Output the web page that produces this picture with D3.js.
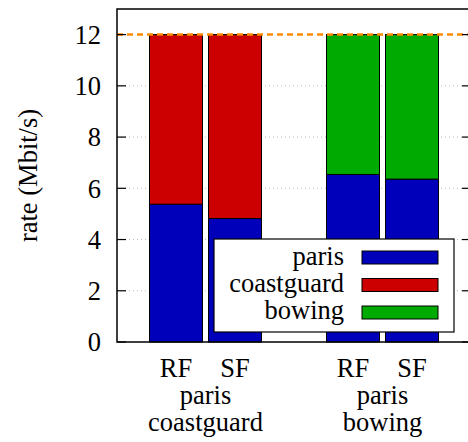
<!DOCTYPE html>
<html>
<head>
<meta charset="utf-8">
<script src="https://cdn.jsdelivr.net/npm/d3@7"></script>
<style>
  body { margin: 0; background: #fff; }
</style>
</head>
<body>
<div id="chart"></div>
<script>
// data
const groups = ["paris\ncoastguard", "paris\nbowing"];
const methods = ["RF", "SF"];
const seriesNames = ["paris", "coastguard", "bowing"];
const seriesColors = ["#0000bb", "#cc0000", "#00aa00"];
// paris share and second video share, per group and method
const parisRates = [[5.38, 4.82], [6.54, 6.36]];
const otherRates = [[6.62, 7.18], [5.46, 5.64]];
const otherSeries = ["coastguard", "bowing"];
const capacity = 12;
const yTicks = [0, 2, 4, 6, 8, 10, 12];

const width = 468, height = 442;
const margin = { top: 9, left: 117, right: -3, bottom: 100 };
const innerW = width - margin.left - margin.right;
const innerH = height - margin.top - margin.bottom;

const svg = d3.select("#chart").append("svg")
  .attr("width", width).attr("height", height)
  .attr("font-family", "Liberation Serif")
  .attr("font-size", 26.5);
const g = svg.append("g").attr("transform", `translate(${margin.left},${margin.top})`);

const y = d3.scaleLinear().domain([0, 13]).range([innerH, 0]);
const x0 = d3.scaleBand().domain(groups).range([0, innerW]);
const x1 = d3.scaleBand().domain(methods)
  .range([x0.bandwidth() / 2 - 56, x0.bandwidth() / 2 + 56]).paddingInner(0.1017);
const color = d3.scaleOrdinal().domain(seriesNames).range(seriesColors);

// dotted grid
g.selectAll("line.grid").data(yTicks.filter(d => d > 0 && d < 12)).join("line")
  .attr("class", "grid")
  .attr("x1", 0).attr("x2", innerW)
  .attr("y1", d => y(d)).attr("y2", d => y(d))
  .attr("stroke", "#bbb").attr("stroke-width", 1).attr("stroke-dasharray", "1,3");

// stacked bars
const bars = [];
groups.forEach((gr, gi) => {
  methods.forEach((m, mi) => {
    const p = parisRates[gi][mi], o = otherRates[gi][mi];
    bars.push({ gr, m, key: "paris", y0: 0, y1: p });
    bars.push({ gr, m, key: otherSeries[gi], y0: p, y1: p + o });
  });
});
g.selectAll("rect.bar").data(bars).join("rect")
  .attr("class", "bar")
  .attr("x", d => x0(d.gr) + x1(d.m))
  .attr("width", x1.bandwidth())
  .attr("y", d => y(d.y1))
  .attr("height", d => y(d.y0) - y(d.y1))
  .attr("fill", d => color(d.key))
  .attr("stroke", "#000").attr("stroke-width", 1);

// capacity line
g.append("line")
  .attr("x1", 0).attr("x2", innerW)
  .attr("y1", y(capacity)).attr("y2", y(capacity))
  .attr("stroke", "#ff8c00").attr("stroke-width", 2.5).attr("stroke-dasharray", "6,4");

// frame and ticks
g.append("rect").attr("width", innerW).attr("height", innerH)
  .attr("fill", "none").attr("stroke", "#000").attr("stroke-width", 1.5);
g.selectAll("line.tl").data(yTicks).join("line").attr("class", "tl")
  .attr("x1", 0).attr("x2", 9).attr("y1", d => y(d)).attr("y2", d => y(d))
  .attr("stroke", "#000").attr("stroke-width", 1.2);
g.selectAll("line.tr").data(yTicks).join("line").attr("class", "tr")
  .attr("x1", innerW - 9).attr("x2", innerW).attr("y1", d => y(d)).attr("y2", d => y(d))
  .attr("stroke", "#000").attr("stroke-width", 1.2);
g.selectAll("text.yt").data(yTicks).join("text").attr("class", "yt")
  .attr("x", -16).attr("y", d => y(d)).attr("dy", "0.35em")
  .attr("text-anchor", "end").text(d => d);

// y label
svg.append("text")
  .attr("transform", `translate(37,${margin.top + innerH / 2}) rotate(-90)`)
  .attr("text-anchor", "middle").text("rate (Mbit/s)");

// x labels
const xl = svg.append("g").attr("transform", `translate(${margin.left},0)`);
groups.forEach(gr => {
  methods.forEach(m => {
    xl.append("text").attr("x", x0(gr) + x1(m) + x1.bandwidth() / 2).attr("y", 377)
      .attr("text-anchor", "middle").text(m);
  });
  gr.split("\n").forEach((line, i) => {
    xl.append("text").attr("x", x0(gr) + x0.bandwidth() / 2).attr("y", 404 + i * 27)
      .attr("text-anchor", "middle").text(line);
  });
});

// legend
const lg = svg.append("g").attr("transform", "translate(214,239)");
lg.append("rect").attr("width", 240).attr("height", 93)
  .attr("fill", "#fff").attr("stroke", "#000").attr("stroke-width", 1.2);
seriesNames.forEach((s, i) => {
  lg.append("text").attr("x", 130).attr("y", 26 + i * 27)
    .attr("text-anchor", "end").text(s);
  lg.append("rect").attr("x", 148).attr("y", 12 + i * 27.5).attr("width", 76).attr("height", 13)
    .attr("fill", color(s)).attr("stroke", "#000").attr("stroke-width", 1);
});
</script>
</body>
</html>
